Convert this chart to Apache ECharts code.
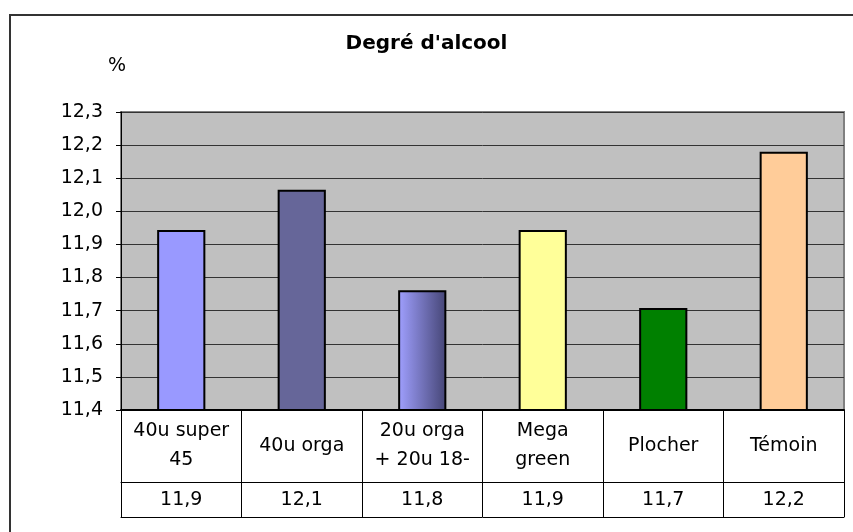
<!DOCTYPE html>
<html lang="fr">
<head>
    <meta charset="UTF-8">
    <title>Degré d'alcool</title>
    <script type="text/javascript" src="https://cdn.jsdelivr.net/npm/echarts@6/dist/echarts.min.js"></script>
</head>
<body style="margin:0;background:#fff">
<div id="alcool" style="width:853px;height:532px"></div>
<script type="text/javascript">
    // données
    var categories = ['40u super\n45', '40u orga', '20u orga\n+ 20u 18-', 'Mega\ngreen', 'Plocher', 'Témoin'];
    var values = [11.944, 12.065, 11.762, 11.944, 11.708, 12.18];
    var yTicks = [11.4, 12.3, 0.1]; // min, max, pas

    var colors = [
        '#9999FF',
        '#666699',
        {type: 'linear', x: 0, y: 0, x2: 1, y2: 0,
            colorStops: [{offset: 0, color: '#A0A0FF'}, {offset: 1, color: '#454575'}]},
        '#FFFF99',
        '#008000',
        '#FFCC99'
    ];

    function virgule(v) {
        return Number(v).toFixed(1).replace('.', ',');
    }

    var font = 'DejaVu Sans';
    var chart = echarts.init(document.getElementById('alcool'));

    chart.setOption({
        animation: false,
        title: {
            text: "Degré d'alcool",
            left: 'center',
            top: 34,
            padding: 0,
            textStyle: {fontFamily: font, fontSize: 20, fontWeight: 'bold', color: '#000'}
        },
        graphic: [{
            type: 'rect',
            shape: {x: 10, y: 15, width: 900, height: 600},
            style: {fill: 'none', stroke: '#333', lineWidth: 2},
            silent: true
        }],
        grid: {
            left: 121, right: 9, top: 112, bottom: 122,
            show: true,
            backgroundColor: '#C0C0C0',
            borderColor: '#808080',
            borderWidth: 2
        },
        xAxis: [{
            type: 'category',
            data: categories,
            position: 'bottom',
            axisLine: {lineStyle: {color: '#000', width: 2}},
            axisTick: {show: true, length: 107, interval: 0, lineStyle: {color: '#000', width: 1}},
            axisLabel: {
                interval: 0, margin: 36, verticalAlign: 'middle',
                fontFamily: font, fontSize: 19, color: '#000', lineHeight: 29
            },
            splitLine: {show: false}
        }, {
            type: 'category',
            data: values.map(virgule),
            position: 'bottom',
            offset: 72,
            axisLine: {lineStyle: {color: '#000', width: 1}},
            axisTick: {show: false},
            axisLabel: {
                interval: 0, margin: 18, verticalAlign: 'middle',
                fontFamily: font, fontSize: 19, color: '#000'
            }
        }, {
            type: 'category',
            data: categories,
            position: 'bottom',
            offset: 107,
            axisLine: {lineStyle: {color: '#000', width: 1}},
            axisTick: {show: false},
            axisLabel: {show: false}
        }],
        yAxis: {
            type: 'value',
            min: yTicks[0],
            max: yTicks[1],
            interval: yTicks[2],
            name: '%',
            nameLocation: 'end',
            nameGap: 46,
            nameTextStyle: {fontFamily: font, fontSize: 19, color: '#000', align: 'center', verticalAlign: 'middle', padding: [0, 8, 0, 0]},
            axisLine: {show: true, lineStyle: {color: '#000', width: 1}},
            axisTick: {show: true, length: 5, lineStyle: {color: '#000'}},
            axisLabel: {
                margin: 18,
                fontFamily: font, fontSize: 19, color: '#000',
                formatter: virgule
            },
            splitLine: {lineStyle: {color: '#333', width: 1}}
        },
        series: [{
            type: 'bar',
            barWidth: '40%',
            data: values.map(function (v, i) {
                return {value: v, itemStyle: {color: colors[i]}};
            }),
            itemStyle: {borderColor: '#000', borderWidth: 2}
        }]
    });
</script>
</body>
</html>
